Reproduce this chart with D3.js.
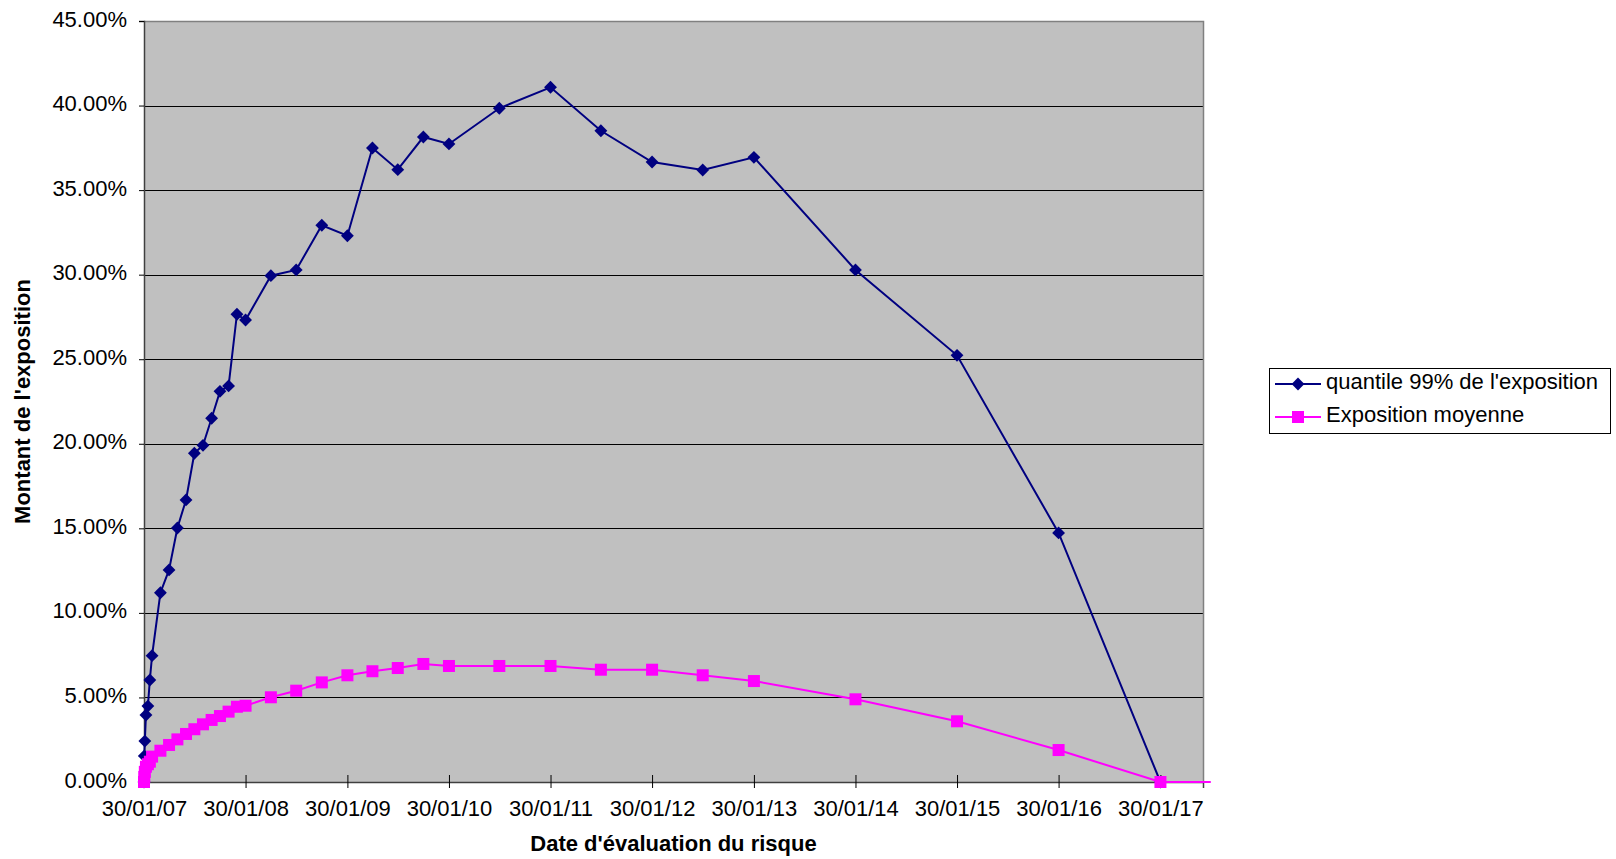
<!DOCTYPE html>
<html>
<head>
<meta charset="utf-8">
<script src="https://cdn.jsdelivr.net/npm/d3@7"></script>
<style>
  html, body { margin: 0; padding: 0; background: #ffffff; }
  svg { display: block; font-family: "Liberation Sans", Arial, sans-serif; }
</style>
</head>
<body>
<svg id="chart" width="1616" height="859"></svg>
<script>
// Evaluation dates (dd/mm/yy). The last date lies just past the axis end.
const evalDates = [
  "30/01/07", "31/01/07", "02/02/07", "06/02/07", "13/02/07", "20/02/07", "28/02/07",
  "30/03/07", "30/04/07", "30/05/07", "30/06/07", "30/07/07", "30/08/07", "30/09/07",
  "30/10/07", "30/11/07", "30/12/07", "30/01/08", "30/04/08", "30/07/08", "30/10/08",
  "30/01/09", "30/04/09", "30/07/09", "30/10/09", "30/01/10", "30/07/10", "30/01/11",
  "30/07/11", "30/01/12", "30/07/12", "30/01/13", "30/01/14", "30/01/15", "30/01/16",
  "30/01/17", "30/07/17"
];

// 99% quantile of the exposure (%)
const quantile99 = [
  0, 1.54, 2.42, 3.96, 4.49, 6.03, 7.47,
  11.19, 12.54, 15.02, 16.68, 19.44, 19.91, 21.51,
  23.10, 23.42, 27.66, 27.32, 29.94, 30.28, 32.92,
  32.30, 37.49, 36.21, 38.14, 37.73, 39.84, 41.08,
  38.51, 36.66, 36.19, 36.94, 30.28, 25.23, 14.73,
  0
];

// Mean exposure (%)
const expoMoyenne = [
  0, 0.30, 0.60, 0.90, 1.05, 1.20, 1.50,
  1.85, 2.19, 2.52, 2.84, 3.12, 3.41, 3.67,
  3.90, 4.16, 4.45, 4.51, 5.01, 5.40, 5.89,
  6.31, 6.55, 6.74, 6.98, 6.86, 6.86, 6.86,
  6.64, 6.64, 6.31, 5.97, 4.89, 3.59, 1.89,
  0, 0
];

// Axis ticks
const xTickLabels = ["30/01/07", "30/01/08", "30/01/09", "30/01/10", "30/01/11",
  "30/01/12", "30/01/13", "30/01/14", "30/01/15", "30/01/16", "30/01/17"];
const yTickValues = [0, 5, 10, 15, 20, 25, 30, 35, 40, 45];
const axisStart = "30/01/07";
const axisEnd = "02/07/17";

const seriesNames = ["quantile 99% de l'exposition", "Exposition moyenne"];
const yTitle = "Montant de l'exposition";
const xTitle = "Date d'évaluation du risque";

const parseDate = d3.timeParse("%d/%m/%y");

const plot = { left: 144, right: 1203, top: 21, bottom: 782 };
const svg = d3.select("#chart");
svg.append("rect").attr("width", 1616).attr("height", 859).attr("fill", "#ffffff");

const x = d3.scaleTime()
  .domain([parseDate(axisStart), parseDate(axisEnd)])
  .range([plot.left, plot.right]);
const y = d3.scaleLinear().domain([0, 45]).range([plot.bottom, plot.top]);

// Plot background
svg.append("rect")
  .attr("x", plot.left).attr("y", plot.top)
  .attr("width", plot.right - plot.left).attr("height", plot.bottom - plot.top)
  .attr("fill", "#c0c0c0");

// Horizontal gridlines
svg.append("g").selectAll("line")
  .data(yTickValues.filter(v => v > 0 && v < 45))
  .join("line")
  .attr("x1", plot.left).attr("x2", plot.right)
  .attr("y1", d => Math.round(y(d)) + 0.5).attr("y2", d => Math.round(y(d)) + 0.5)
  .attr("stroke", "#000").attr("stroke-width", 1);

// Plot border (top and right)
svg.append("path")
  .attr("d", `M${plot.left},${plot.top + 0.5}H${plot.right + 0.5}V${plot.bottom}`)
  .attr("fill", "none").attr("stroke", "#808080").attr("stroke-width", 1.5);

// Y axis
const yAxis = d3.axisLeft(y)
  .tickValues(yTickValues)
  .tickSize(5)
  .tickPadding(12)
  .tickFormat(d => d.toFixed(2) + "%");
const gy = svg.append("g").attr("transform", `translate(${plot.left},0)`).call(yAxis);
gy.select(".domain").attr("stroke", "#404040").attr("stroke-width", 1.5);
gy.selectAll(".tick line").attr("stroke", "#000");
gy.selectAll(".tick text")
  .attr("font-size", 22).attr("fill", "#000")
  .attr("font-family", "'Liberation Sans', Arial, sans-serif")
  .attr("dy", null).attr("y", 5);

// X axis
const xAxis = d3.axisBottom(x)
  .tickValues(xTickLabels.map(parseDate))
  .tickSize(6)
  .tickPadding(12)
  .tickFormat(d3.timeFormat("%d/%m/%y"));
const gx = svg.append("g").attr("transform", `translate(0,${plot.bottom})`).call(xAxis);
gx.select(".domain").attr("stroke", "#404040").attr("stroke-width", 1.5);
gx.selectAll(".tick line").attr("stroke", "#000").attr("y1", -7);
gx.selectAll(".tick text")
  .attr("font-size", 22).attr("fill", "#000")
  .attr("font-family", "'Liberation Sans', Arial, sans-serif");

// Series data
const blueData = quantile99.map((v, i) => ({ date: parseDate(evalDates[i]), value: v }));
const pinkData = expoMoyenne.map((v, i) => ({ date: parseDate(evalDates[i]), value: v }));
const inAxis = d => d.date <= x.domain()[1];

const line = d3.line().x(d => x(d.date)).y(d => y(d.value));

const blue = "#000080";
const pink = "#ff00ff";

// Quantile 99% series
svg.append("path").datum(blueData)
  .attr("d", line).attr("fill", "none")
  .attr("stroke", blue).attr("stroke-width", 2);
const diamond = d3.symbol().type(d3.symbolDiamond2).size(105);
svg.append("g").selectAll("path")
  .data(blueData.filter(inAxis))
  .join("path")
  .attr("transform", d => `translate(${x(d.date)},${y(d.value)})`)
  .attr("d", diamond)
  .attr("fill", blue);

// Mean exposure series
svg.append("path").datum(pinkData)
  .attr("d", line).attr("fill", "none")
  .attr("stroke", pink).attr("stroke-width", 2);
svg.append("g").selectAll("rect")
  .data(pinkData.filter(inAxis))
  .join("rect")
  .attr("x", d => x(d.date) - 6).attr("y", d => y(d.value) - 6)
  .attr("width", 12).attr("height", 12)
  .attr("fill", pink);

// Axis titles
svg.append("text")
  .attr("transform", `translate(30,${(plot.top + plot.bottom) / 2}) rotate(-90)`)
  .attr("text-anchor", "middle")
  .attr("font-size", 22).attr("font-weight", "bold")
  .text(yTitle);
svg.append("text")
  .attr("x", (plot.left + plot.right) / 2).attr("y", 851)
  .attr("text-anchor", "middle")
  .attr("font-size", 22).attr("font-weight", "bold")
  .text(xTitle);

// Legend
const legend = svg.append("g");
legend.append("rect")
  .attr("x", 1269.5).attr("y", 368.5).attr("width", 341).attr("height", 65)
  .attr("fill", "#ffffff").attr("stroke", "#000").attr("stroke-width", 1);
const rows = [
  { name: seriesNames[0], color: blue, shape: "diamond", y: 384 },
  { name: seriesNames[1], color: pink, shape: "square", y: 417 }
];
rows.forEach(r => {
  legend.append("line")
    .attr("x1", 1275).attr("x2", 1321).attr("y1", r.y).attr("y2", r.y)
    .attr("stroke", r.color).attr("stroke-width", 2);
  if (r.shape === "diamond") {
    legend.append("path")
      .attr("transform", `translate(1298,${r.y})`)
      .attr("d", diamond).attr("fill", r.color);
  } else {
    legend.append("rect")
      .attr("x", 1292).attr("y", r.y - 6).attr("width", 12).attr("height", 12)
      .attr("fill", r.color);
  }
  legend.append("text")
    .attr("x", 1326).attr("y", r.y + 5)
    .attr("font-size", 22).attr("fill", "#000")
    .text(r.name);
});
</script>
</body>
</html>
